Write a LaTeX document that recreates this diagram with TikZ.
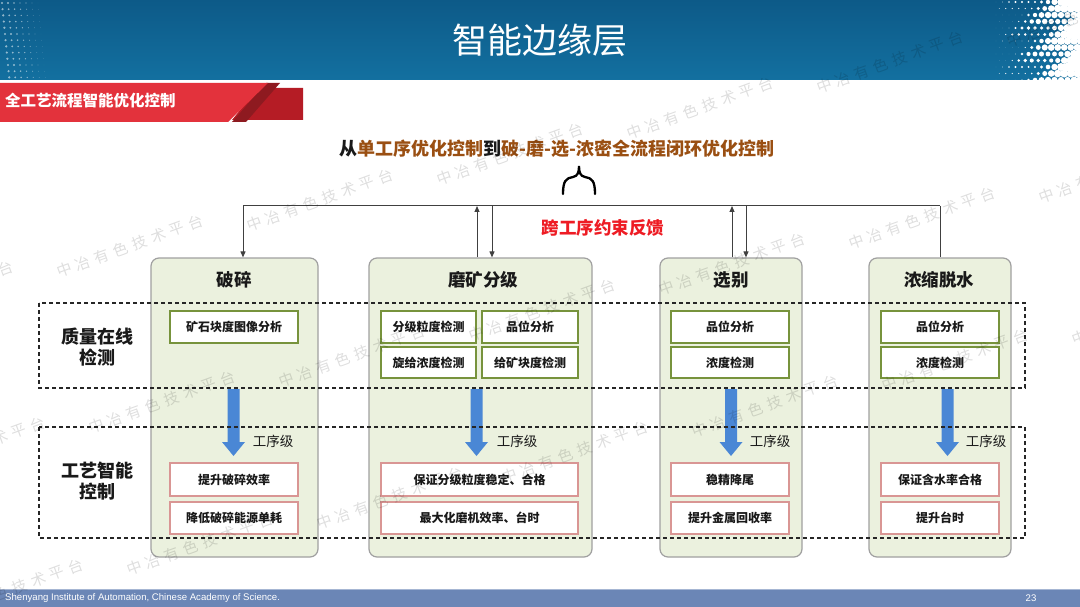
\documentclass[tikz,border=0pt]{standalone}
\usepackage{fontspec}
\setmainfont{Noto Sans CJK SC}
\newfontfamily\latinfont{Liberation Sans}
\usetikzlibrary{arrows.meta}
\definecolor{hdrtop}{HTML}{0D5A88}
\definecolor{hdrbot}{HTML}{1370A0}
\definecolor{tabred}{HTML}{E3323C}
\definecolor{tabdark}{HTML}{B51C25}
\definecolor{tabstripe}{HTML}{8E1A20}
\definecolor{brownt}{HTML}{9A4F12}
\definecolor{fbred}{HTML}{EE1C24}
\definecolor{colfill}{HTML}{EBF1DE}
\definecolor{colborder}{HTML}{A0A0A0}
\definecolor{gborder}{HTML}{77933C}
\definecolor{rborder}{HTML}{D99694}
\definecolor{arrowblue}{HTML}{4A87D5}
\definecolor{footblue}{HTML}{6B86B6}
\definecolor{linegray}{HTML}{404040}
\newcommand\wmark{\fontsize{15}{15}\selectfont 中\hspace{5pt}冶\hspace{5pt}有\hspace{5pt}色\hspace{5pt}技\hspace{5pt}术\hspace{5pt}平\hspace{5pt}台}
\newcommand\bluearrow[1]{\fill[arrowblue] ({#1-6},389) -- ({#1+6},389) -- ({#1+6},442) -- ({#1+11.5},442) -- (#1,456) -- ({#1-11.5},442) -- ({#1-6},442) -- cycle;}
\begin{document}
\begin{tikzpicture}[x=1pt,y=-1pt,
  col/.style={draw=colborder, fill=colfill, rounded corners=8pt, line width=1.2pt, inner sep=0pt},
  coltitle/.style={font=\bfseries\fontsize{17.5}{20}\selectfont, text=black!90},
  gbox/.style={draw=gborder, fill=white, line width=1.8pt, inner sep=0pt, font=\bfseries\fontsize{12}{14}\selectfont, text=black!90},
  rbox/.style={draw=rborder, fill=white, line width=1.6pt, inner sep=0pt, font=\bfseries\fontsize{12}{14}\selectfont, text=black!90},
  dashbox/.style={draw=black!85, dash pattern=on 4pt off 3pt, line width=1.1pt},
  fb/.style={draw=linegray, line width=1pt},
  fbtip/.style={-{Triangle[length=6pt,width=5pt]}},
  levellbl/.style={font=\fontsize{13.5}{15}\selectfont, text=black!90},
  sidelbl/.style={font=\bfseries\fontsize{18}{21}\selectfont, align=center, text=black!90},
  wm/.style={text=black, text opacity=0.13, rotate=20, inner sep=0pt}]
\useasboundingbox (0,0) rectangle (1080,607);
\fill[white] (0,0) rectangle (1080,607);
% header
\shade[top color=hdrtop, bottom color=hdrbot] (0,0) rectangle (1080,80);
\begin{scope}
\clip (0,0) rectangle (1080,80);
\foreach \i in {0,...,13}{
  \foreach \j in {0,...,12}{
    \pgfmathsetmacro\xx{996+\i*6.5+mod(\j,2)*3.25}
    \pgfmathsetmacro\yy{2+\j*6.5}
    \pgfmathsetmacro\rr{max(0.05,(\xx-1000)/80*4.8-0.3+0.7*sin(\j*73+\i*41))}
    \fill[white] (\xx,\yy) circle[radius=\rr pt];
  }}
\foreach \i in {0,...,6}{
  \foreach \j in {0,...,12}{
    \pgfmathsetmacro\xx{2+\i*6+\j*0.6}
    \pgfmathsetmacro\yy{3+\j*6.2}
    \pgfmathsetmacro\rr{max(0.05,1.2*(1-\i/7))}
    \fill[white, opacity=0.55] (\xx,\yy) circle[radius=\rr pt];
  }}
\end{scope}
\node[text=white, font=\fontsize{35}{37}\selectfont] (hdr) at (540,40) {智能边缘层};
% red tab
\fill[tabdark] (258,88) -- (303,88) -- (303,120) -- (232,120) -- cycle;
\fill[tabstripe] (266,83) -- (280,83) -- (246,122) -- (232,122) -- cycle;
\fill[tabred] (0,83) -- (268,83) -- (228,122) -- (0,122) -- cycle;
\node[anchor=west, text=white, font=\bfseries\fontsize{15.5}{17}\selectfont, inner sep=0pt] (tab) at (5,101) {全工艺流程智能优化控制};
% main title
\node[font=\bfseries\fontsize{18}{20}\selectfont] (title) at (557,149)
  {{\color{black!90}从}{\color{brownt}单工序优化控制}{\color{black!90}到}{\color{brownt}破-磨-选-浓密全流程闭环优化控制}};
% brace
\draw[line width=2.3pt, line cap=round] (563,194) .. controls (563,181) and (566,178) .. (573,177) .. controls (578,176) and (579,172) .. (579,166)
  .. controls (579,172) and (580,176) .. (585,177) .. controls (592,178) and (595,181) .. (595,194);
% columns
\node[col, minimum width=167pt, minimum height=299pt] (c1) at (234.5,407.5) {};
\node[col, minimum width=223pt, minimum height=299pt] (c2) at (480.5,407.5) {};
\node[col, minimum width=142pt, minimum height=299pt] (c3) at (731,407.5) {};
\node[col, minimum width=142pt, minimum height=299pt] (c4) at (940,407.5) {};
\node[coltitle] (t1) at (234,280) {破碎};
\node[coltitle] (t2) at (483,280) {磨矿分级};
\node[coltitle] (t3) at (731,280) {选别};
\node[coltitle] (t4) at (939,280) {浓缩脱水};
% feedback lines
\coordinate (h1) at (243,206);
\coordinate (h2) at (477,206);
\coordinate (h3) at (492,206);
\coordinate (h4) at (732,206);
\coordinate (h5) at (746,206);
\coordinate (h6) at (940,206);
\draw[fb] (h1) -- (h6);
\draw[fb, fbtip] (h1) -- (h1 |- c1.north);
\draw[fb, fbtip] (h2 |- c2.north) -- (h2);
\draw[fb, fbtip] (h3) -- (h3 |- c2.north);
\draw[fb, fbtip] (h4 |- c3.north) -- (h4);
\draw[fb, fbtip] (h5) -- (h5 |- c3.north);
\draw[fb] (h6) -- (h6 |- c4.north);
\node[text=fbred, font=\bfseries\fontsize{17.5}{20}\selectfont] (fbl) at (603,228) {跨工序约束反馈};
% blue arrows
\bluearrow{233.5}
\bluearrow{476.5}
\bluearrow{731}
\bluearrow{947.5}
\node[levellbl] (l1) at (273,441) {工序级};
\node[levellbl] (l2) at (517,441) {工序级};
\node[levellbl] (l3) at (770,441) {工序级};
\node[levellbl] (l4) at (986,441) {工序级};
% green boxes
\node[gbox, minimum width=128pt, minimum height=32pt] (g11) at (234,327) {矿石块度图像分析};
\node[gbox, minimum width=95pt, minimum height=32pt] (g21) at (428.5,327) {分级粒度检测};
\node[gbox, minimum width=96pt, minimum height=32pt] (g22) at (530,327) {品位分析};
\node[gbox, minimum width=95pt, minimum height=31pt] (g23) at (428.5,362.5) {旋给浓度检测};
\node[gbox, minimum width=96pt, minimum height=31pt] (g24) at (530,362.5) {给矿块度检测};
\node[gbox, minimum width=118pt, minimum height=32pt] (g31) at (730,327) {品位分析};
\node[gbox, minimum width=118pt, minimum height=31pt] (g32) at (730,362.5) {浓度检测};
\node[gbox, minimum width=118pt, minimum height=32pt] (g41) at (940,327) {品位分析};
\node[gbox, minimum width=118pt, minimum height=31pt] (g42) at (940,362.5) {浓度检测};
% red boxes
\node[rbox, minimum width=128pt, minimum height=33pt] (r11) at (234,479.5) {提升破碎效率};
\node[rbox, minimum width=128pt, minimum height=32pt] (r12) at (234,518) {降低破碎能源单耗};
\node[rbox, minimum width=197pt, minimum height=33pt] (r21) at (479.5,479.5) {保证分级粒度稳定、合格};
\node[rbox, minimum width=197pt, minimum height=32pt] (r22) at (479.5,518) {最大化磨机效率、台时};
\node[rbox, minimum width=118pt, minimum height=33pt] (r31) at (730,479.5) {稳精降尾};
\node[rbox, minimum width=118pt, minimum height=32pt] (r32) at (730,518) {提升金属回收率};
\node[rbox, minimum width=118pt, minimum height=33pt] (r41) at (940,479.5) {保证含水率合格};
\node[rbox, minimum width=118pt, minimum height=32pt] (r42) at (940,518) {提升台时};
% dashed bands
\draw[dashbox] (39,303) rectangle (1025,388);
\draw[dashbox] (39,427) rectangle (1025,538);
\node[sidelbl] (s1) at (97,347) {质量在线\\检测};
\node[sidelbl] (s2) at (97,481) {工艺智能\\控制};
% footer
\fill[footblue] (0,589) rectangle (1080,607);
\draw[footblue!60!white, line width=0.8pt] (0,589) -- (1080,589);
\node[anchor=west, text=white, font=\latinfont\fontsize{9.6}{10}\selectfont, inner sep=0pt] (ft) at (5,598.5) {Shenyang Institute of Automation, Chinese Academy of Science.};
\node[text=white, font=\latinfont\fontsize{9.6}{10}\selectfont, inner sep=0pt] (pg) at (1031,598.5) {23};
% watermarks
\foreach \p in {(1080,16),(890,62),(700,108),(510,154),(320,200),(130,246),(-60,292),
  (1112,172),(922,218),(732,264),(542,310),(352,356),(162,402),(-28,448),
  (1145,314),(955,360),(765,406),(575,452),(390,498),(200,544),(10,590)}
  \node[wm] at \p {\wmark};
\end{tikzpicture}
\end{document}
